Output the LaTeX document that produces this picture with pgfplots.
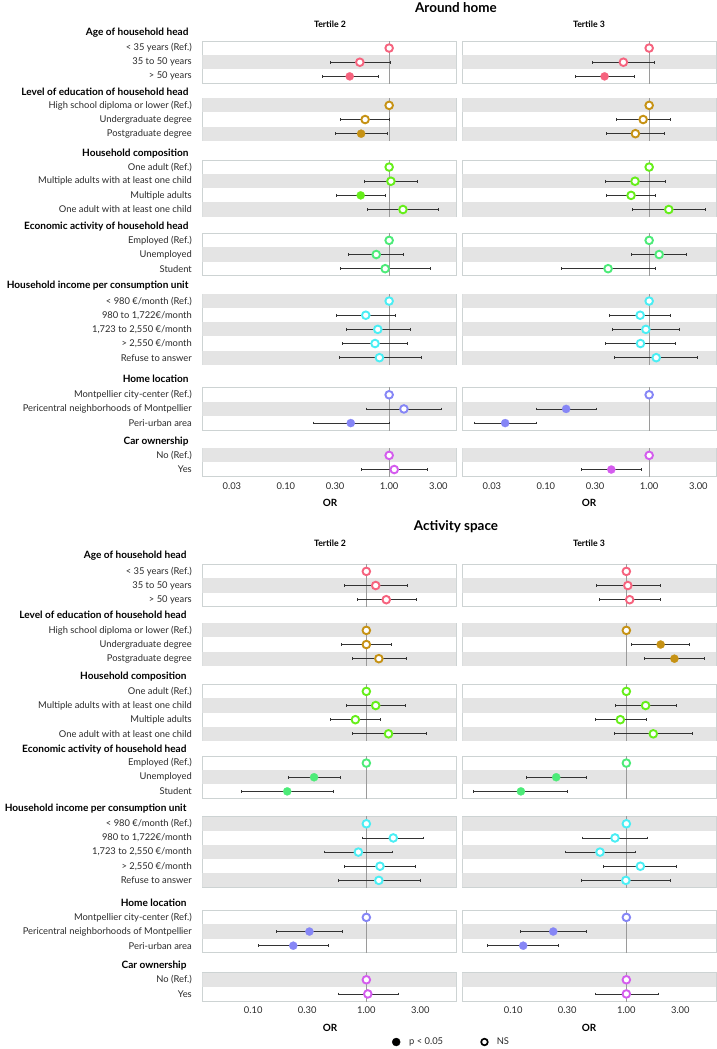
\documentclass[border=0pt]{standalone}
\usepackage{pgfplots}
\pgfplotsset{compat=1.18}
\usepackage{fontspec}
\setmainfont{Lato}

\definecolor{agec}{HTML}{F6637E}
\definecolor{educ}{HTML}{C69214}
\definecolor{compc}{HTML}{66EE1A}
\definecolor{econc}{HTML}{4CEB78}
\definecolor{incc}{HTML}{4AEEF4}
\definecolor{homec}{HTML}{8686F6}
\definecolor{carc}{HTML}{D45CEE}
\definecolor{bandc}{HTML}{E4E4E4}
\definecolor{boxc}{HTML}{CDD3D3}
\definecolor{gridc}{HTML}{DADADA}
\definecolor{refc}{HTML}{9A9A9A}
\definecolor{cic}{HTML}{333333}
\definecolor{labc}{HTML}{2A2A2A}
\colorlet{gc}{agec}

\newcommand{\lblfont}{\fontsize{9.4}{11}\selectfont}
\newcommand{\hdrfont}{\bfseries\fontsize{10.1}{12}\selectfont}
\newcommand{\tfont}{\bfseries\fontsize{13.5}{16}\selectfont}
\newcommand{\sfont}{\bfseries\fontsize{8.8}{10}\selectfont}
\newcommand{\ofont}{\bfseries\fontsize{10}{12}\selectfont}
\def\gridticks{0.03,0.1,0.3,3}

\pgfplotsset{
  myaxis/.style={
    scale only axis, width=253.7bp, y dir=reverse, clip=true,
    axis line style={draw=boxc, line width=0.9bp},
    major tick length=0pt, minor tick num=0,
    ytick=\empty, xticklabels={},
    tick label style={font=\lblfont, text=labc},
    yticklabel style={anchor=east, xshift=-7bp},
    xticklabel style={yshift=-2.5bp},
  },
  mytop/.style={xmin=0.0155, xmax=4.44, xtick={0.03,0.1,0.3,1,3}},
  mytopx/.style={mytop, xticklabels={0.03,0.10,0.30,1.00,3.00}},
  mybot/.style={xmin=0.0355, xmax=6.2, xtick={0.1,0.3,1,3}},
  mybotx/.style={mybot, xticklabels={0.10,0.30,1.00,3.00}},
  mycil/.style={draw=cic, line width=0.75bp, mark=|, mark size=1.4bp, unbounded coords=jump},
  myopen/.style={only marks, mark=*, mark size=3.8bp, mark options={draw=gc, fill=white, line width=1.9bp}},
  myfill/.style={only marks, mark=*, mark size=4.1bp, mark options={draw=gc, fill=gc, line width=0.2bp}},
}

% #1 left, #2 top, #3 rows, #4 panel style, #5 extra options,
% #6 shaded rows, #7 confidence intervals, #8 NS estimates, #9 significant estimates
\newcommand{\grp}[9]{%
  \pgfmathsetmacro\gh{#3*14.15}%
  \pgfmathsetmacro\gymax{#3+0.5}%
  \begin{semilogxaxis}[myaxis, #4, at={(#1bp,-#2bp)}, anchor=north west,
      height=\gh bp, ymin=0.5, ymax=\gymax, #5]
    \pgfplotsinvokeforeach{#6}{\fill[bandc] (axis cs:1e-3,##1-0.5) rectangle (axis cs:1e2,##1+0.5);}
    \pgfplotsinvokeforeach{\gridticks}{\draw[gridc, dashed, line width=0.5bp] (axis cs:##1,0) -- (axis cs:##1,#3+1);}
    \draw[refc, line width=1bp] (axis cs:1,0) -- (axis cs:1,#3+1);
    \addplot[mycil] coordinates {#7};
    \addplot[myopen] coordinates {#8};
    \addplot[myfill] coordinates {#9};
  \end{semilogxaxis}}

\begin{document}
\begin{tikzpicture}
\path[use as bounding box] (0,0) rectangle (717bp,-1049bp);

% ---------------- Around home ----------------
\node[font=\tfont] at (456bp,-7.5bp) {Around home};
\node[font=\sfont] at (330bp,-24bp) {Tertile 2};
\node[font=\sfont] at (589bp,-24bp) {Tertile 3};

\node[anchor=base east, font=\hdrfont] at (192bp,-35.5bp) {Age of household head};
\node[anchor=base east, font=\hdrfont] at (192bp,-95.5bp) {Level of education of household head};
\node[anchor=base east, font=\hdrfont] at (192bp,-156.5bp) {Household composition};
\node[anchor=base east, font=\hdrfont] at (192bp,-229.5bp) {Economic activity of household head};
\node[anchor=base east, font=\hdrfont] at (192bp,-288.5bp) {Household income per consumption unit};
\node[anchor=base east, font=\hdrfont] at (192bp,-382.5bp) {Home location};
\node[anchor=base east, font=\hdrfont] at (192bp,-444.5bp) {Car ownership};

\colorlet{gc}{agec}
\grp{202.3}{41}{3}{mytop}{ytick={1,2,3}, yticklabels={{< 35 years (Ref.)},{35 to 50 years},{> 50 years}}}{2}
  {(0.27,2)(1.02,2)(nan,nan)(0.224,3)(0.79,3)}{(1,1)(0.52,2)}{(0.415,3)}
\grp{462.3}{41}{3}{mytop}{}{2}
  {(0.28,2)(1.12,2)(nan,nan)(0.193,3)(0.715,3)}{(1,1)(0.563,2)}{(0.37,3)}

\colorlet{gc}{educ}
\grp{202.3}{98.3}{3}{mytop}{ytick={1,2,3}, yticklabels={{High school diploma or lower (Ref.)},{Undergraduate degree},{Postgraduate degree}}}{1,3}
  {(0.334,2)(1.0,2)(nan,nan)(0.30,3)(0.97,3)}{(1,1)(0.585,2)}{(0.535,3)}
\grp{462.3}{98.3}{3}{mytop}{}{1,3}
  {(0.478,2)(1.59,2)(nan,nan)(0.388,3)(1.39,3)}{(1,1)(0.875,2)(0.736,3)}{}

\colorlet{gc}{compc}
\grp{202.3}{160}{4}{mytop}{ytick={1,2,3,4}, yticklabels={{One adult (Ref.)},{Multiple adults with at least one child},{Multiple adults},{One adult with at least one child}}}{2,4}
  {(0.575,2)(1.86,2)(nan,nan)(0.31,3)(0.92,3)(nan,nan)(0.62,4)(2.97,4)}{(1,1)(1.04,2)(1.36,4)}{(0.53,3)}
\grp{462.3}{160}{4}{mytop}{}{2,4}
  {(0.377,2)(1.42,2)(nan,nan)(0.388,3)(1.15,3)(nan,nan)(0.69,4)(3.5,4)}{(1,1)(0.73,2)(0.668,3)(1.55,4)}{}

\colorlet{gc}{econc}
\grp{202.3}{233.3}{3}{mytop}{ytick={1,2,3}, yticklabels={{Employed (Ref.)},{Unemployed},{Student}}}{2}
  {(0.40,2)(1.38,2)(nan,nan)(0.334,3)(2.48,3)}{(1,1)(0.75,2)(0.915,3)}{}
\grp{462.3}{233.3}{3}{mytop}{}{2}
  {(0.673,2)(2.3,2)(nan,nan)(0.14,3)(1.15,3)}{(1,1)(1.25,2)(0.40,3)}{}

\colorlet{gc}{incc}
\grp{202.3}{294}{5}{mytop}{ytick={1,2,3,4,5}, yticklabels={{< 980 €/month (Ref.)},{980 to 1,722€/month},{1,723 to 2,550 €/month},{> 2,550 €/month},{Refuse to answer}}}{1,3,5}
  {(0.306,2)(1.15,2)(nan,nan)(0.383,3)(1.59,3)(nan,nan)(0.355,4)(1.51,4)(nan,nan)(0.327,5)(2.03,5)}{(1,1)(0.594,2)(0.776,3)(0.73,4)(0.805,5)}{}
\grp{462.3}{294}{5}{mytop}{}{1,3,5}
  {(0.41,2)(1.61,2)(nan,nan)(0.437,3)(1.97,3)(nan,nan)(0.377,4)(1.79,4)(nan,nan)(0.46,5)(2.94,5)}{(1,1)(0.818,2)(0.93,3)(0.824,4)(1.17,5)}{}

\colorlet{gc}{homec}
\grp{202.3}{387.7}{3}{mytop}{ytick={1,2,3}, yticklabels={{Montpellier city-center (Ref.)},{Pericentral neighborhoods of Montpellier},{Peri-urban area}}}{2}
  {(0.60,2)(3.2,2)(nan,nan)(0.184,3)(1.0,3)}{(1,1)(1.39,2)}{(0.425,3)}
\grp{462.3}{387.7}{3}{mytop}{}{2}
  {(0.0805,2)(0.308,2)(nan,nan)(0.0201,3)(0.0805,3)}{(1,1)}{(0.157,2)(0.0403,3)}

\colorlet{gc}{carc}
\grp{202.3}{448.3}{2}{mytopx}{ytick={1,2}, yticklabels={{No (Ref.)},{Yes}}}{1}
  {(0.543,2)(2.32,2)}{(1,1)(1.12,2)}{}
\grp{462.3}{448.3}{2}{mytopx}{}{1}
  {(0.22,2)(0.85,2)}{(1,1)}{(0.43,2)}

\node[font=\ofont] at (330bp,-503bp) {OR};
\node[font=\ofont] at (589bp,-503bp) {OR};

% ---------------- Activity space ----------------
\def\gridticks{0.1,0.3,3}
\node[font=\tfont] at (456bp,-527bp) {Activity space};
\node[font=\sfont] at (330bp,-543bp) {Tertile 2};
\node[font=\sfont] at (589bp,-543bp) {Tertile 3};

\node[anchor=base east, font=\hdrfont] at (190bp,-558.5bp) {Age of household head};
\node[anchor=base east, font=\hdrfont] at (190bp,-618.5bp) {Level of education of household head};
\node[anchor=base east, font=\hdrfont] at (190bp,-679.5bp) {Household composition};
\node[anchor=base east, font=\hdrfont] at (190bp,-752.5bp) {Economic activity of household head};
\node[anchor=base east, font=\hdrfont] at (190bp,-811.5bp) {Household income per consumption unit};
\node[anchor=base east, font=\hdrfont] at (190bp,-906.5bp) {Home location};
\node[anchor=base east, font=\hdrfont] at (190bp,-968.5bp) {Car ownership};

\colorlet{gc}{agec}
\grp{202.3}{564.3}{3}{mybot}{ytick={1,2,3}, yticklabels={{< 35 years (Ref.)},{35 to 50 years},{> 50 years}}}{2}
  {(0.64,2)(2.3,2)(nan,nan)(0.83,3)(2.75,3)}{(1,1)(1.21,2)(1.50,3)}{}
\grp{462.3}{564.3}{3}{mybot}{}{2}
  {(0.545,2)(2.0,2)(nan,nan)(0.577,3)(2.0,3)}{(1,1)(1.03,2)(1.07,3)}{}

\colorlet{gc}{educ}
\grp{202.3}{623.3}{3}{mybot}{ytick={1,2,3}, yticklabels={{High school diploma or lower (Ref.)},{Undergraduate degree},{Postgraduate degree}}}{1,3}
  {(0.60,2)(1.68,2)(nan,nan)(0.75,3)(2.24,3)}{(1,1)(1.0,2)(1.29,3)}{}
\grp{462.3}{623.3}{3}{mybot}{}{1,3}
  {(1.11,2)(3.61,2)(nan,nan)(1.43,3)(4.93,3)}{(1,1)}{(2.01,2)(2.66,3)}

\colorlet{gc}{compc}
\grp{202.3}{684.3}{4}{mybot}{ytick={1,2,3,4}, yticklabels={{One adult (Ref.)},{Multiple adults with at least one child},{Multiple adults},{One adult with at least one child}}}{2,4}
  {(0.67,2)(2.21,2)(nan,nan)(0.48,3)(1.32,3)(nan,nan)(0.75,4)(3.36,4)}{(1,1)(1.21,2)(0.80,3)(1.57,4)}{}
\grp{462.3}{684.3}{4}{mybot}{}{2,4}
  {(0.805,2)(2.77,2)(nan,nan)(0.528,3)(1.50,3)(nan,nan)(0.79,4)(3.84,4)}{(1,1)(1.48,2)(0.885,3)(1.73,4)}{}

\colorlet{gc}{econc}
\grp{202.3}{756}{3}{mybot}{ytick={1,2,3}, yticklabels={{Employed (Ref.)},{Unemployed},{Student}}}{2}
  {(0.203,2)(0.595,2)(nan,nan)(0.078,3)(0.516,3)}{(1,1)}{(0.345,2)(0.20,3)}
\grp{462.3}{756}{3}{mybot}{}{2}
  {(0.13,2)(0.44,2)(nan,nan)(0.0448,3)(0.304,3)}{(1,1)}{(0.24,2)(0.117,3)}

\colorlet{gc}{incc}
\grp{202.3}{816.7}{5}{mybot}{ytick={1,2,3,4,5}, yticklabels={{< 980 €/month (Ref.)},{980 to 1,722€/month},{1,723 to 2,550 €/month},{> 2,550 €/month},{Refuse to answer}}}{1,3,5}
  {(0.93,2)(3.18,2)(nan,nan)(0.43,3)(1.70,3)(nan,nan)(0.64,4)(2.71,4)(nan,nan)(0.568,5)(3.0,5)}{(1,1)(1.73,2)(0.85,3)(1.32,4)(1.29,5)}{}
\grp{462.3}{816.7}{5}{mybot}{}{1,3,5}
  {(0.405,2)(1.54,2)(nan,nan)(0.29,3)(1.19,3)(nan,nan)(0.63,4)(2.75,4)(nan,nan)(0.397,5)(2.47,5)}{(1,1)(0.794,2)(0.585,3)(1.33,4)(0.99,5)}{}

\colorlet{gc}{homec}
\grp{202.3}{910.3}{3}{mybot}{ytick={1,2,3}, yticklabels={{Montpellier city-center (Ref.)},{Pericentral neighborhoods of Montpellier},{Peri-urban area}}}{2}
  {(0.16,2)(0.615,2)(nan,nan)(0.111,3)(0.461,3)}{(1,1)}{(0.314,2)(0.226,3)}
\grp{462.3}{910.3}{3}{mybot}{}{2}
  {(0.116,2)(0.443,2)(nan,nan)(0.0596,3)(0.25,3)}{(1,1)}{(0.226,2)(0.1226,3)}

\colorlet{gc}{carc}
\grp{202.3}{972.7}{2}{mybotx}{ytick={1,2}, yticklabels={{No (Ref.)},{Yes}}}{1}
  {(0.57,2)(1.90,2)}{(1,1)(1.03,2)}{}
\grp{462.3}{972.7}{2}{mybotx}{}{1}
  {(0.537,2)(1.92,2)}{(1,1)(1.0,2)}{}

\node[font=\ofont] at (330bp,-1028bp) {OR};
\node[font=\ofont] at (589bp,-1028bp) {OR};

% legend
\begin{axis}[hide axis, scale only axis, width=10bp, height=10bp,
    at={(392bp,-1042bp)}, anchor=west, xmin=0, xmax=1, ymin=0, ymax=1,
    legend columns=2,
    legend style={at={(0,0.5)}, anchor=west, draw=none, fill=none,
      font=\lblfont, text=labc, inner sep=0pt,
      nodes={inner sep=0pt},
      /tikz/every odd column/.append style={column sep=9bp},
      /tikz/every even column/.append style={column sep=38bp}},
    legend image code/.code={\draw[#1] (0bp,0bp) -- plot coordinates {(0bp,0bp)};}]
  \addlegendimage{only marks, mark=*, mark size=4bp, black}
  \addlegendentry{p < 0.05}
  \addlegendimage{only marks, mark=*, mark size=3.3bp, mark options={draw=black, fill=white, line width=1.7bp}}
  \addlegendentry{NS}
\end{axis}
\end{tikzpicture}
\end{document}
